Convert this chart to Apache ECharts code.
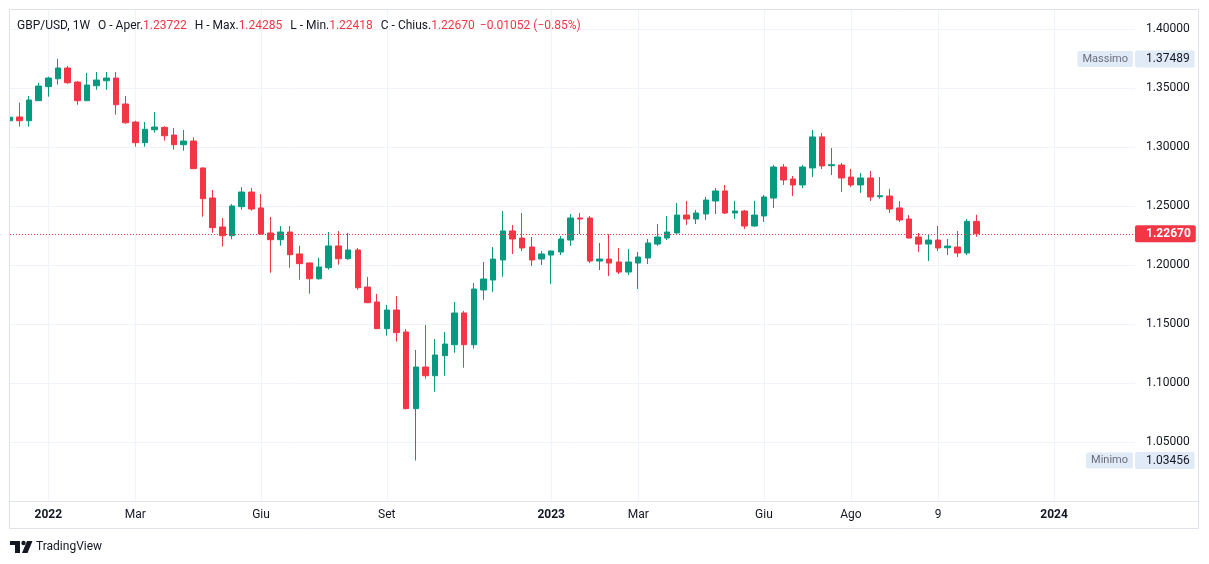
<!DOCTYPE html>
<html><head><meta charset="utf-8">
<script src="https://cdn.jsdelivr.net/npm/echarts@6/dist/echarts.min.js"></script>
<style>html,body{margin:0;padding:0;background:#fff;}#c{width:1209px;height:564px;}</style>
</head><body><div id="c"></div>
<script>
// ---- data (weekly candles, index 0 = week of 6 Dec 2021) ----
const symbolName = 'GBP/USD, 1W';
const openP = [1.3225,1.3257,1.3225,1.3395,1.3514,1.3581,1.3672,1.3553,1.3395,1.3522,
 1.3564,1.3587,1.3367,1.3214,1.3039,1.3149,1.3169,1.3104,1.3022,1.3053,
 1.2825,1.2570,1.2325,1.2251,1.2497,1.2621,1.2486,1.2274,1.2217,1.2282,
 1.2096,1.2020,1.1886,1.1980,1.2164,1.2056,1.2130,1.1816,1.1689,1.1463,
 1.1621,1.1435,1.0785,1.1138,1.1064,1.1234,1.1327,1.1596,1.1327,1.1791,
 1.1875,1.2045,1.2291,1.2231,1.2155,1.2053,1.2087,1.2113,1.2214,1.2401,
 1.2401,1.2036,1.2053,1.2028,1.1943,1.2019,1.2062,1.2180,1.2231,1.2274,
 1.2426,1.2392,1.2435,1.2545,1.2630,1.2443,1.2460,1.2333,1.2418,1.2570,
 1.2833,1.2731,1.2681,1.2825,1.3088,1.2844,1.2850,1.2748,1.2681,1.2740,
 1.2581,1.2587,1.2486,1.2392,1.2240,1.2180,1.2214,1.2149,1.2155,1.2104,
 1.23722];
const closeP = [1.3255,1.3225,1.3401,1.3519,1.3587,1.3672,1.3547,1.3395,1.3528,1.3570,
 1.3587,1.3361,1.3208,1.3039,1.3153,1.3172,1.3098,1.3022,1.3053,1.2819,
 1.2564,1.2319,1.2251,1.2503,1.2621,1.2477,1.2265,1.2217,1.2282,1.2090,
 1.2014,1.1886,1.1986,1.2164,1.2056,1.2130,1.1810,1.1683,1.1463,1.1621,
 1.1429,1.0785,1.1138,1.1064,1.1240,1.1333,1.1596,1.1327,1.1799,1.1884,
 1.2053,1.2291,1.2223,1.2147,1.2045,1.2096,1.2121,1.2223,1.2401,1.2392,
 1.2036,1.2053,1.2019,1.1943,1.2028,1.2070,1.2189,1.2240,1.2282,1.2426,
 1.2392,1.2443,1.2553,1.2630,1.2443,1.2460,1.2333,1.2426,1.2579,1.2833,
 1.2723,1.2681,1.2833,1.3088,1.2842,1.2853,1.2740,1.2681,1.2740,1.2579,
 1.2590,1.2477,1.2384,1.2231,1.2180,1.2214,1.2147,1.2163,1.2104,1.23722,
 1.22670];
const lowP = [1.3215,1.3175,1.3175,1.3392,1.3429,1.3531,1.3539,1.3361,1.3393,1.3488,
 1.3488,1.3276,1.3200,1.3005,1.3005,1.3124,1.3056,1.2980,1.2971,1.2815,
 1.2412,1.2276,1.2158,1.2220,1.2471,1.2463,1.2260,1.1937,1.2166,1.1980,
 1.1878,1.1759,1.1878,1.1963,1.2005,1.2047,1.1793,1.1680,1.1460,1.1403,
 1.1353,1.0780,1.03456,1.1039,1.0929,1.1064,1.1259,1.1132,1.1293,1.1708,
 1.1776,1.1903,1.2096,1.2121,1.1994,1.2003,1.1842,1.2087,1.2164,1.2265,
 1.2019,1.1960,1.1909,1.1926,1.1918,1.1799,1.2011,1.2164,1.2214,1.2270,
 1.2342,1.2350,1.2384,1.2435,1.2435,1.2392,1.2308,1.2325,1.2367,1.2486,
 1.2681,1.2587,1.2655,1.2748,1.2816,1.2765,1.2621,1.2664,1.2613,1.2545,
 1.2564,1.2443,1.2367,1.2228,1.2113,1.2036,1.2121,1.2087,1.2070,1.2087,
 1.22418];
const highP = [1.3262,1.3378,1.3435,1.3545,1.3598,1.37489,1.3689,1.3562,1.3630,1.3638,
 1.3638,1.3638,1.3435,1.3225,1.3214,1.3299,1.3178,1.3164,1.3147,1.3085,
 1.2830,1.2638,1.2401,1.2519,1.2664,1.2655,1.2604,1.2409,1.2333,1.2333,
 1.2166,1.2022,1.2064,1.2282,1.2291,1.2274,1.2147,1.1901,1.1757,1.1664,
 1.1740,1.1460,1.1282,1.1494,1.1375,1.1435,1.1689,1.1613,1.1850,1.2028,
 1.2155,1.2460,1.2342,1.2443,1.2240,1.2121,1.2125,1.2248,1.2435,1.2443,
 1.2418,1.2189,1.2265,1.2147,1.2138,1.2113,1.2223,1.2350,1.2418,1.2528,
 1.2545,1.2469,1.2579,1.2655,1.2681,1.2545,1.2469,1.2545,1.2596,1.2850,
 1.2858,1.2757,1.2850,1.3147,1.3121,1.2994,1.2867,1.2816,1.2782,1.2799,
 1.2748,1.2647,1.2545,1.2426,1.2274,1.2257,1.2333,1.2223,1.2291,1.2392,
 1.24285];
const xTickIdx  = [4, 13, 26, 39, 56, 65, 78, 87, 96, 108];
const xTickText = ['2022','Mar','Giu','Set','2023','Mar','Giu','Ago','9','2024'];
const xTickBold = [true,false,false,false,true,false,false,false,false,true];
const yTicks = [1.05,1.10,1.15,1.20,1.25,1.30,1.35,1.40];
const badgeNames = ['Massimo', 'Minimo'];

// ---- styles ----
const UP='#089981', DOWN='#f23645', TXT='#131722', GRID='#f0f3fa', FRAME='#e0e3eb', BADGE='#e1ebf8';
const FONT = 'Roboto, "Noto Sans", sans-serif';
const Y_MIN = 1.0, Y_MAX = 1.41636;

const n = openP.length;
const candles = openP.map((o,i)=>[i, o, closeP[i], lowP[i], highP[i]]);
const lastO=openP[n-1], lastC=closeP[n-1], lastH=highP[n-1], lastL=lowP[n-1], prevC=closeP[n-2];
const chg = lastC - prevC, pct = chg/prevC*100;
const fmt = v => v.toFixed(5);
const sgn = s => s.replace('-', '\u2212');
const maxH = Math.max(...highP), minL = Math.min(...lowP);
const lastCol = lastC >= lastO ? UP : DOWN;

const header = '{t|' + symbolName + '}' +
  '{k|O - Aper.}{v|' + fmt(lastO) + '}' +
  '{k|H - Max.}{v|' + fmt(lastH) + '}' +
  '{k|L - Min.}{v|' + fmt(lastL) + '}' +
  '{k|C - Chius.}{v|' + fmt(lastC) + '}' +
  '{c|' + sgn(chg.toFixed(5)) + ' (' + sgn(pct.toFixed(2)) + '%)}';

const baseY = extra => Object.assign({
  type:'value', position:'right', min:Y_MIN, max:Y_MAX,
  axisLine:{show:false}, splitLine:{show:false}
}, extra);

const chart = echarts.init(document.getElementById('c'), null, {renderer:'canvas'});
chart.setOption({
  animation:false,
  backgroundColor:'#ffffff',
  title:[{
    left:17, top:20, padding:0, text: header,
    textStyle:{ fontFamily: FONT, fontSize:12, fontWeight:'normal', color:TXT,
      rich:{
        t:{fontFamily:FONT, fontSize:12, color:TXT},
        k:{fontFamily:FONT, fontSize:12, color:TXT, padding:[0,0,0,8]},
        v:{fontFamily:FONT, fontSize:12, color:lastCol},
        c:{fontFamily:FONT, fontSize:12, color:lastCol, padding:[0,0,0,5]}
      }}
  },{
    left:36, top:541, padding:0, text:'TradingView',
    textStyle:{fontFamily:FONT, fontSize:12, fontWeight:'normal', color:TXT}
  }],
  grid:{left:10, right:74, top:10, bottom:62.7, outerBoundsMode:'none'},
  xAxis:{
    type:'value', min:0.04, max:116.37,
    axisLine:{show:false},
    axisTick:{show:false, customValues:xTickIdx},
    axisLabel:{
      customValues:xTickIdx, margin:8, color:TXT, fontFamily:FONT, fontSize:12,
      formatter: v => { const k = xTickIdx.indexOf(Math.round(v)); if (k<0) return '';
        return xTickBold[k] ? '{b|'+xTickText[k]+'}' : xTickText[k]; },
      rich:{ b:{fontWeight:'bold', color:TXT, fontFamily:FONT, fontSize:12} }
    },
    splitLine:{show:true, lineStyle:{color:GRID, width:1}}
  },
  yAxis:[
    baseY({
      axisTick:{show:false, customValues:yTicks},
      axisLabel:{customValues:yTicks, formatter: v => fmt(v), color:TXT, fontFamily:FONT, fontSize:12, margin:11},
      splitLine:{show:true, lineStyle:{color:GRID, width:1}}
    }),
    // last price: dotted line + box
    baseY({
      axisTick:{show:false, customValues:[lastC]},
      axisLabel:{customValues:[lastC], formatter: v => fmt(v), margin:0,
        backgroundColor:lastCol, color:'#ffffff', fontWeight:'bold', fontFamily:FONT, fontSize:12,
        padding:[3,5,2,11], borderRadius:2},
      splitLine:{show:true, lineStyle:{color:lastCol, type:[1,2], width:1}},
      z:5
    }),
    // high / low values on the price scale
    baseY({
      axisTick:{show:false, customValues:[maxH, minL]},
      axisLabel:{customValues:[maxH, minL], formatter: v => fmt(v), margin:0,
        backgroundColor:BADGE, color:TXT, fontFamily:FONT, fontSize:12,
        padding:[3,5,2,11], borderRadius:2}
    }),
    // high / low names inside the plot
    baseY({
      axisTick:{show:false, customValues:[maxH, minL]},
      axisLabel:{customValues:[maxH, minL], inside:true, margin:2,
        formatter: v => Math.abs(v - maxH) < 1e-9 ? badgeNames[0] : badgeNames[1],
        backgroundColor:BADGE, color:'#6a6d78', fontFamily:FONT, fontSize:11,
        padding:[3,5,2,5], borderRadius:2}
    })
  ],
  series:[{
    type:'candlestick', data:candles, encode:{x:0, y:[1,2,3,4]}, yAxisIndex:0,
    barWidth:6, clip:true,
    itemStyle:{color:UP, color0:DOWN, borderColor:UP, borderColor0:DOWN, borderWidth:1}
  }],
  graphic:[
    {type:'rect', silent:true, z:99, shape:{x:0, y:0, width:9.5, height:564},
     style:{fill:'#ffffff'}},
    {type:'rect', silent:true, z:100, shape:{x:9.5, y:9.5, width:1189, height:519},
     style:{fill:null, stroke:FRAME, lineWidth:1}},
    {type:'line', silent:true, z:100, shape:{x1:10, y1:501.5, x2:1198, y2:501.5},
     style:{stroke:FRAME, lineWidth:1}},
    {type:'group', silent:true, z:100, children:[
      {type:'rect', shape:{x:10, y:541, width:10, height:4}, style:{fill:TXT}},
      {type:'rect', shape:{x:15, y:541, width:5, height:12}, style:{fill:TXT}},
      {type:'circle', shape:{cx:23.5, cy:543, r:2.2}, style:{fill:TXT}},
      {type:'polygon', shape:{points:[[27,541],[32.5,541],[27.5,553],[22,553]]}, style:{fill:TXT}}
    ]}
  ]
});
</script></body></html>
